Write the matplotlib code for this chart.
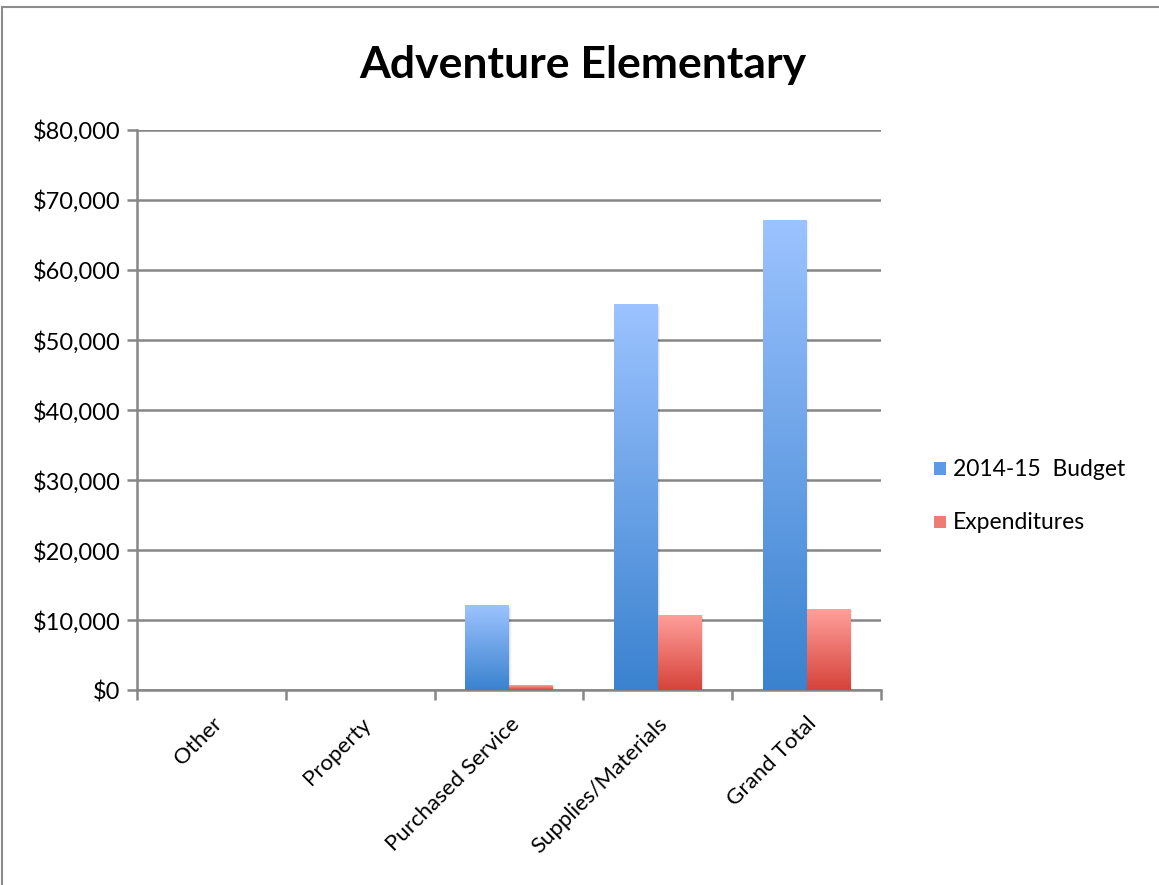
import numpy as np
import matplotlib.pyplot as plt
from matplotlib.colors import LinearSegmentedColormap
from matplotlib.patches import Rectangle
from matplotlib.ticker import FuncFormatter, MultipleLocator

# Budget vs spending by category
categories = ['Other', 'Property', 'Purchased Service', 'Supplies/Materials', 'Grand Total']
budget = [0, 0, 12000, 55000, 67100]
expenditures = [0, 0, 700, 10700, 11550]
series_names = ['2014-15  Budget', 'Expenditures']

plt.rcParams['font.family'] = ['Lato', 'DejaVu Sans']

fig = plt.figure(figsize=(11.59, 8.85), dpi=100)
ax = fig.add_axes([0.1182, 0.2203, 0.6419, 0.6328])

# frame around the chart area
fig.patches.append(Rectangle((0.002, -0.05), 1.2, 1.042, transform=fig.transFigure,
                             fill=False, edgecolor='#8c8c8c', linewidth=1.5))

blue_cmap = LinearSegmentedColormap.from_list('blue', ['#3a82cf', '#9cc3ff'])
red_cmap = LinearSegmentedColormap.from_list('red', ['#d6433a', '#ff9f9a'])
grad = np.linspace(0, 1, 256).reshape(-1, 1)

width = 0.295
x = np.arange(len(categories))


def gradient_bar(xc, h, cmap):
    if h <= 0:
        return
    x0, x1 = xc - width / 2, xc + width / 2
    # soft drop shadow
    for k, a in enumerate([0.06, 0.04, 0.02]):
        off = 0.006 * (k + 1)
        ax.add_patch(Rectangle((x0 + off, 0), width, h + 80 * (k + 1) - 300,
                               facecolor='black', alpha=a, edgecolor='none', zorder=2))
    ax.imshow(grad, cmap=cmap, origin='lower', extent=[x0, x1, 0, h],
              aspect='auto', zorder=3, interpolation='bilinear')


for i in range(len(categories)):
    gradient_bar(x[i] - width / 2, budget[i], blue_cmap)
    gradient_bar(x[i] + width / 2, expenditures[i], red_cmap)

ax.set_xlim(-0.5, len(categories) - 0.5)
ax.set_ylim(0, 80000)
ax.yaxis.set_major_locator(MultipleLocator(10000))
ax.yaxis.set_major_formatter(FuncFormatter(lambda v, p: '${:,.0f}'.format(v)))
ax.grid(axis='y', color='#868686', linewidth=1.8, zorder=0)
ax.set_axisbelow(True)

for side in ['top', 'right']:
    ax.spines[side].set_visible(False)
for side in ['left', 'bottom']:
    ax.spines[side].set_color('#868686')
    ax.spines[side].set_linewidth(1.8)

ax.set_xticks(np.arange(-0.5, len(categories), 1.0), minor=False)
ax.set_xticklabels([])
ax.set_xticks(x, minor=True)
ax.set_xticklabels(categories, minor=True, rotation=45, ha='right',
                   rotation_mode='anchor', fontsize=16)
ax.tick_params(axis='x', which='major', length=7, width=1.8, color='#868686')
ax.tick_params(axis='x', which='minor', length=0, pad=17)
ax.tick_params(axis='y', length=7, width=1.8, color='#868686', labelsize=17, pad=5)

fig.text(0.503, 0.927, 'Adventure Elementary', ha='center', va='center',
         fontsize=32, fontweight='bold')

# legend
fig.patches.append(Rectangle((0.806, 0.463), 0.0105, 0.0145, transform=fig.transFigure,
                             facecolor='#5b9ae6', edgecolor='none'))
fig.patches.append(Rectangle((0.806, 0.403), 0.0105, 0.0145, transform=fig.transFigure,
                             facecolor='#ee7b74', edgecolor='none'))
fig.text(0.822, 0.470, series_names[0], fontsize=16.5, va='center')
fig.text(0.822, 0.410, series_names[1], fontsize=16.5, va='center')

fig.savefig('out.png', dpi=100)
